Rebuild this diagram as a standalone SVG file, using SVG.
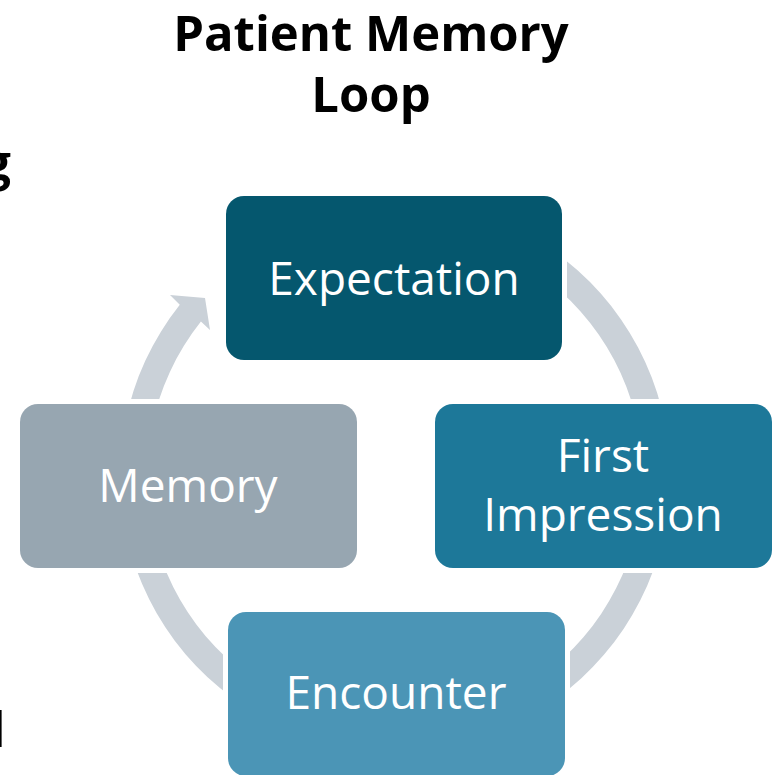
<svg xmlns="http://www.w3.org/2000/svg" width="775" height="775" viewBox="0 0 775 775">
  <style>
    .title { font-family: "Open Sans", "Liberation Sans", sans-serif; font-weight: 700; font-size: 49px; fill: #000; }
    .node rect { stroke: #fff; stroke-width: 10; paint-order: stroke; }
    .label { font-family: "Open Sans", "Liberation Sans", sans-serif; font-size: 46px; fill: #fff; text-anchor: middle; }
  </style>

  <rect width="775" height="775" fill="#fff"/>

  <!-- Title and text running in from the left edge -->
  <text class="title" x="371" y="51" text-anchor="middle">Patient Memory</text>
  <text class="title" x="371" y="112" text-anchor="middle">Loop</text>
  <text class="title" x="11" y="180" text-anchor="end">g</text>
  <text class="title" x="5.5" y="747" text-anchor="end">l</text>

  <!-- Cycle arrow: one ring behind the nodes, head pointing into Expectation -->
  <g id="connectors">
    <path fill="#cad1d8" d="M300.94,217.59 A275,275 0 1 1 179.78,304.81 L170,295 L205,298 L210,330 L200.91,321.62 A248,248 0 1 0 310.18,242.96 Z"/>
  </g>

  <g id="expectation" class="node">
    <rect x="226" y="196" width="336" height="164" rx="18" fill="#05576e"/>
    <text class="label" x="394" y="295">Expectation</text>
  </g>

  <g id="first-impression" class="node">
    <rect x="435" y="404" width="337" height="164" rx="18" fill="#1d7899"/>
    <text class="label" x="603" y="472">First</text>
    <text class="label" x="603" y="531">Impression</text>
  </g>

  <g id="encounter" class="node">
    <rect x="228" y="612" width="337" height="164" rx="18" fill="#4b95b6"/>
    <text class="label" x="396" y="709">Encounter</text>
  </g>

  <g id="memory" class="node">
    <rect x="20" y="404" width="337" height="164" rx="18" fill="#97a6b1"/>
    <text class="label" x="188" y="502">Memory</text>
  </g>
</svg>
